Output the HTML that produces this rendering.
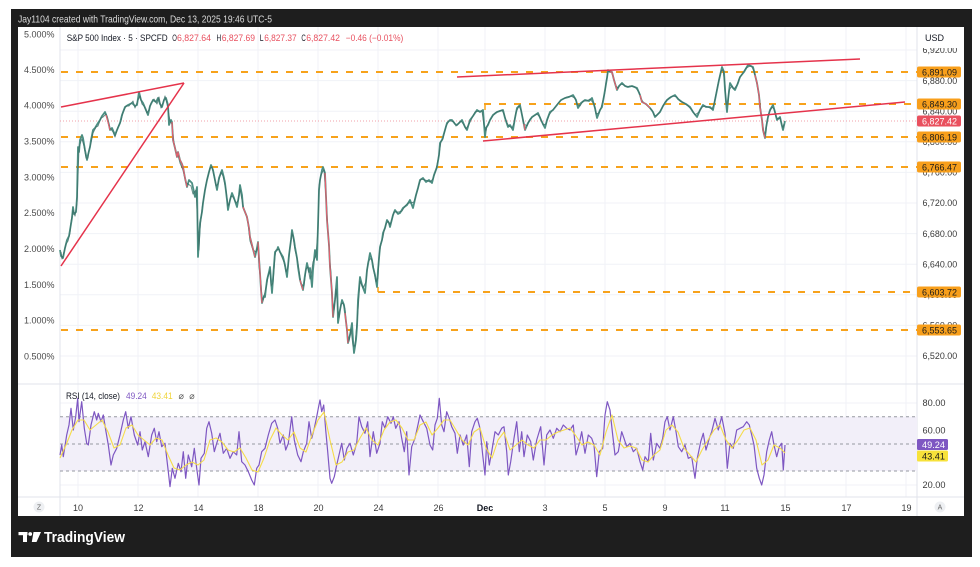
<!DOCTYPE html>
<html><head><meta charset="utf-8">
<style>
html,body{margin:0;padding:0;background:#fff;}
svg{display:block;font-family:"Liberation Sans",Arial,sans-serif;}
</style></head>
<body>
<svg width="980" height="567" viewBox="0 0 980 567" xmlns="http://www.w3.org/2000/svg">
<rect x="0" y="0" width="980" height="567" fill="#ffffff"/>
<rect x="11" y="9" width="961" height="548" fill="#1e1e1e"/>
<rect x="18" y="27" width="946" height="489" fill="#ffffff"/>
<text x="18" y="22.5" font-size="10.5" fill="#dcdcdc" textLength="254" lengthAdjust="spacingAndGlyphs">Jay1104 created with TradingView.com, Dec 13, 2025 19:46 UTC-5</text>

<!-- grid -->
<g stroke="#f0f2f7" stroke-width="1">
<line x1="78" y1="27" x2="78" y2="497"/><line x1="138" y1="27" x2="138" y2="497"/><line x1="198" y1="27" x2="198" y2="497"/>
<line x1="258" y1="27" x2="258" y2="497"/><line x1="318" y1="27" x2="318" y2="497"/><line x1="378" y1="27" x2="378" y2="497"/>
<line x1="438" y1="27" x2="438" y2="497"/><line x1="485" y1="27" x2="485" y2="497"/><line x1="545" y1="27" x2="545" y2="497"/>
<line x1="605" y1="27" x2="605" y2="497"/><line x1="665" y1="27" x2="665" y2="497"/><line x1="725" y1="27" x2="725" y2="497"/>
<line x1="785" y1="27" x2="785" y2="497"/><line x1="846" y1="27" x2="846" y2="497"/><line x1="906" y1="27" x2="906" y2="497"/>
<line x1="60" y1="50" x2="917" y2="50"/><line x1="60" y1="80.6" x2="917" y2="80.6"/><line x1="60" y1="111.2" x2="917" y2="111.2"/>
<line x1="60" y1="141.8" x2="917" y2="141.8"/><line x1="60" y1="172.4" x2="917" y2="172.4"/><line x1="60" y1="203" x2="917" y2="203"/>
<line x1="60" y1="233.6" x2="917" y2="233.6"/><line x1="60" y1="264.2" x2="917" y2="264.2"/><line x1="60" y1="294.8" x2="917" y2="294.8"/>
<line x1="60" y1="325.4" x2="917" y2="325.4"/><line x1="60" y1="356" x2="917" y2="356"/>
<line x1="60" y1="403" x2="917" y2="403"/><line x1="60" y1="430.3" x2="917" y2="430.3"/><line x1="60" y1="457.6" x2="917" y2="457.6"/><line x1="60" y1="485" x2="917" y2="485"/>
</g>

<!-- pane borders -->
<g stroke="#e0e3eb" stroke-width="1">
<line x1="60" y1="27" x2="60" y2="516"/>
<line x1="917" y1="27" x2="917" y2="516"/>
<line x1="18" y1="384" x2="964" y2="384"/>
<line x1="18" y1="497" x2="964" y2="497"/>
</g>

<!-- RSI band -->
<rect x="60" y="416.7" width="857" height="54.3" fill="#f2eff9"/>
<g stroke="#9598a1" stroke-width="1" stroke-dasharray="3 3">
<line x1="60" y1="416.7" x2="917" y2="416.7"/>
<line x1="60" y1="444" x2="917" y2="444"/>
<line x1="60" y1="471" x2="917" y2="471"/>
</g>

<!-- orange dashed levels -->
<g stroke="#f7a21b" stroke-width="2" stroke-dasharray="7 8">
<line x1="61" y1="72" x2="917" y2="72"/>
<line x1="484" y1="104" x2="917" y2="104"/>
<line x1="61" y1="137" x2="917" y2="137"/>
<line x1="61" y1="167" x2="917" y2="167"/>
<line x1="378" y1="292" x2="917" y2="292"/>
<line x1="61" y1="330" x2="917" y2="330"/>
</g>
<line x1="485" y1="104" x2="485" y2="110" stroke="#f7a21b" stroke-width="1.5"/>
<line x1="378" y1="292" x2="378" y2="287" stroke="#f7a21b" stroke-width="1.5"/>

<!-- current price dotted line -->
<line x1="60" y1="121" x2="917" y2="121" stroke="#f2a0a8" stroke-width="1" stroke-dasharray="1 2"/>

<!-- price series -->
<g fill="none" stroke-linejoin="round">
<polyline stroke="#4c8f83" stroke-width="1.8" points="60,250 61,256 63,258 65,248 67,240 69,236 70,230 72,218 73,207 74,214 76,212 77,197 78,147 79,152 80,140 82,135 83,138 85,150 87,160 88,155 90,147 91,140 93,130 95,128 98,123 100,120 102,116 105,112 107,117 109,125 110,130 112,128 115,135 117,130 120,123 122,115 125,107 128,105 132,103 135,106 137,105 139,92 141,100 143,103 146,110 148,115 150,106 153,100 156,102 158,98 160,104 162,107 164,100 166,98 168,105 169,125 171,120 172,122 173,140 175,148 177,157 178,152 180,160 182,164 183,167 185,178 187,187 189,180 192,183 194,192 195,197 197,187 198,257 199,240 200,223 202,212 203,203 205,190 207,180 209,172 211,165 213,170 215,180 217,190 219,178 222,170 224,178 225,183 227,200 228,210 230,200 232,193 234,198 237,207 239,195 240,185 242,195 243,207 245,212 247,217 249,228 250,237 252,245 255,257 257,248 258,242 259,258 260,273 261,290 262,303 264,296 265,297 266,288 267,280 269,272 270,267 271,280 272,293 274,265 275,252 277,250 278,247 280,252 283,257 285,265 287,277 289,255 291,240 292,230 294,240 295,247 297,258 298,267 300,280 303,290 305,275 307,263 309,272 310,268 312,287 313,270 315,250 317,260 319,190 320,180 322,170 323,167 325,173 327,220 329,245 330,267 331,280 332,293 333,317 335,300 337,277 338,323 340,310 342,300 344,305 345,313 347,330 348,343 350,335 352,323 353,340 354,353 356,340 357,327 358,300 360,277 362,285 365,293 367,270 370,253 372,260 373,267 375,275 377,287 378,270 380,247 382,240 383,233 385,228 387,220 389,223 390,227 393,215 395,210 398,214 400,213 403,208 407,205 410,200 413,208 416,195 418,188 420,180 423,178 426,182 429,180 432,183 434,175 437,167 439,155 440,143 442,140 443,137 445,130 447,123 450,120 452,120 455,124 457,125 460,122 462,120 465,127 467,130 470,120 473,116 477,110 480,112 483,110 485,137 486,128 488,125 490,120 493,115 497,112 500,111 503,110 505,118 508,127 510,125 513,130 515,118 517,108 520,105 522,115 525,130 528,123 532,117 535,115 538,113 541,120 545,128 547,120 550,112 553,110 557,105 561,100 565,98 569,97 573,95 576,100 578,108 581,103 585,100 589,101 592,98 595,108 597,118 600,110 602,107 604,96 605,90 607,78 608,70 610,72 612,72 614,80 617,90 619,86 622,83 625,86 628,87 632,86 637,88 640,95 642,102 646,104 650,108 653,112 655,117 657,115 660,112 663,106 667,100 671,97 675,95 678,99 682,102 686,104 690,107 693,112 697,117 700,110 703,105 706,107 710,107 713,110 715,100 717,90 719,80 722,67 724,72 725,90 727,112 728,100 730,83 733,88 735,90 738,83 740,77 744,72 748,65 751,66 753,67 755,75 757,83 759,95 760,107 762,120 763,130 765,138 766,128 768,117 770,110 773,105 775,112 777,120 779,118 780,117 782,126 783,130 785,121"/>
<polyline stroke="#3b6f68" stroke-width="1" stroke-opacity="0.8" points="61,252 62,259 64,252 66,244 68,241 70,233 71,222 73,210 75,216 77,203 79,148 81,141 82,139 84,146 86,158 88,158 89,150 91,143 93,133 96,127 98,126 101,118 103,117 106,114 108,121 110,128 113,132 115,137 118,127 121,121 123,112 126,106 129,106 133,101 135,108 138,100 140,96 142,104 144,106 147,113 149,110 151,103 154,99 157,104 159,97 161,108 163,103 165,96 167,104 170,121 172,124 174,143 176,152 178,155 180,163 183,170 186,183 188,184 191,186 193,194 196,190 199,250 200,229 202,209 204,196 206,184 208,176 210,168 212,167 214,176 216,186 218,184 221,172 223,176 226,190 228,206 229,204 231,196 233,197 236,203 238,201 240,189 242,200 244,210 246,214 248,223 250,241 253,250 256,252 258,246 259,266 261,284 262,298 263,300 265,292 267,283 268,276 270,270 271,286 273,283 275,256 276,250 279,249 281,255 284,262 286,272 288,268 290,247 292,233 293,236 295,250 296,254 298,263 301,284 304,286 306,269 308,267 310,279 311,276 313,262 316,255 318,230 319,186 321,175 323,171 324,170 326,196 328,232 330,262 331,273 332,300 334,310 336,289 338,310 339,318 341,304 343,303 345,309 346,322 348,340 349,341 351,329 353,346 355,346 356,334 358,310 360,281 363,288 366,282 368,262 371,258 373,264 374,272 376,282 378,278 379,256 381,243 383,237 384,231 386,224 388,221 390,225 392,219 394,212 397,212 399,212 402,211 405,206 408,203 411,203 414,202 417,192 419,184 421,179 425,180 428,181 430,182 433,179 436,170 438,160 440,148 441,141 443,139 444,134 446,126 449,121 451,121 454,122 456,126 459,123 461,121 464,125 466,129 469,124 472,118 475,112 479,111 482,111 484,125 486,131 487,126 489,122 492,117 495,113 499,111 502,110 504,114 507,123 509,126 512,128 514,123 516,112 519,106 521,110 524,124 527,126 530,119 534,116 537,114 540,117 543,125 546,124 549,115 552,111 555,107 559,102 563,99 567,97 571,96 575,98 577,104 580,106 583,101 587,101 590,99 594,104 596,114 599,113 601,108 603,100 605,92 606,82 608,72 611,71 613,76 616,86 618,88 621,84 624,85 627,87 630,86 635,87 639,92 641,99 644,103 648,106 652,110 654,115 656,116 659,113 662,108 665,102 669,98 673,96 677,97 680,101 684,103 688,106 692,110 695,115 699,112 702,107 705,106 708,107 712,109 714,104 716,94 718,84 721,71 723,70 725,84 726,104 728,104 729,90 732,86 734,89 737,85 739,79 742,74 746,68 750,66 752,67 754,71 756,79 758,90 760,102 761,114 763,126 764,135 766,132 767,121 769,113 772,107 774,109 776,117 778,119 780,118 781,122 783,128 784,124"/>
</g>
<!-- red down-move overlays -->
<g fill="none" stroke="#e4606f" stroke-width="1.2" stroke-linejoin="round">
<polyline points="172,122 173,140 175,148 177,157 178,152 180,160 182,164 183,167 185,178 187,187"/>
<polyline points="243,207 245,212 247,217 249,228 250,237 252,245 255,257"/>
<polyline points="258,242 259,258 260,273 261,290 262,303"/>
<polyline points="325,173 327,220 329,245 330,267 331,280 332,293 333,317"/>
<polyline points="345,313 347,330 348,343"/>
<polyline points="755,75 757,83 759,95 760,107 762,120 763,130 765,138"/>
<polyline points="610,72 612,72 614,80 617,90"/>
<polyline points="106,115 108,122 110,130"/>
<polyline points="640,95 642,102 646,104 650,108"/>
<polyline points="524,124 525,130"/>
<polyline points="300,280 303,290"/>
</g>

<!-- trend lines -->
<g stroke="#e5334b" stroke-width="1.5" fill="none">
<line x1="61" y1="107" x2="184" y2="83"/>
<line x1="61" y1="266" x2="184" y2="83"/>
<line x1="457" y1="77" x2="860" y2="59"/>
<line x1="483" y1="141" x2="905" y2="102"/>
</g>

<!-- RSI line -->
<polyline fill="none" stroke="#7e57c2" stroke-width="1.2" stroke-linejoin="round" points="60,455 61.7,445 63.3,456.7 66.7,435 69,425 71,408.3 73.3,430 75.7,416.7 77.7,398.3 79,421.7 81.7,401.7 84.3,428.3 86.7,443.3 88.3,445 91,425 94.3,411.7 96.7,420 98.3,413.3 101,421.7 103.3,415 105.7,430 108.3,445 111,465 113.3,455 116.7,448.3 120,435 123.3,420 125.7,411.7 128.3,428.3 131,416.7 134.3,435 137.7,445 140,431.7 142.3,450 145,441.7 148.3,456.7 151.7,435 154.3,428.3 156.7,441.7 159,431.7 161.7,446.7 165,443.3 168.3,471.7 170,486.7 172.3,468.3 175,478.3 178.3,463.3 181,471.7 183.3,451.7 185.7,478.3 188.3,455 191.7,466.7 194.3,448.3 196.7,468.3 199,485 201,458.3 204.3,453.3 206.7,428.3 209,421.7 211.7,433.3 214.3,451.7 216.7,443.3 220,433.3 223.3,453.3 226.7,448.3 230,458.3 233.3,451.7 236.7,455 239,431.7 241.7,461.7 245,465 248.3,471.7 251.7,480 254.3,485 256.7,468.3 259,465 261.7,451.7 265,448.3 268.3,435 271.7,423.3 275,420 277.7,428.3 280,443.3 283.3,435 285.7,450 288.3,443.3 291.7,416.7 294.3,440 297.7,455 301,461.7 303.3,451.7 306.7,443.3 309,421.7 311.7,438.3 314.3,428.3 316.7,416.7 318.3,408.3 320,400 321.7,411.7 323.7,405 325.7,430 327.7,451.7 330,478.3 331.7,483.3 334.3,476.7 336.7,465 339,455 341.7,443.3 344.3,460 347,448.3 350,443.3 353.3,455 356.7,443.3 359,416.7 361.7,426.7 365,433.3 367.7,421.7 370,456.7 373.3,431.7 376.7,453.3 380,443.3 382.3,421.7 385,428.3 387.7,416.7 391,423.3 393.3,416.7 395.7,428.3 399,421.7 401.7,438.3 404.3,451.7 406.7,431.7 409,475 411.7,446.7 415,438.3 418.3,423.3 420,415 423.3,421.7 426.7,428.3 430,445 432.7,450 435,425 437.3,418.3 439.3,398.3 441.7,425 444,431.7 446.7,411.7 449.3,418.3 451.7,426.7 455,433.3 457.3,453.3 460,435 463.3,445 466.7,435 469.3,466.7 471.7,431.7 475,421.7 477.3,418.3 480,428.3 482.7,455 485,475 486.7,441.7 489.3,465 491.7,451.7 495,431.7 498.3,435 501.7,428.3 504,426.7 506.7,451.7 508.3,475 510.7,461.7 514,438.3 516.7,421.7 519.3,451.7 521.7,431.7 524,456.7 527.3,435 530.7,441.7 533.3,460 536.7,440 540.7,426.7 544,465 546.7,435 550,430 553.3,438.3 556.7,428.3 560,431.7 563.3,425 566.7,428.3 570,430 573.3,425 576,455 579.3,443.3 581.7,431.7 585,453.3 588.3,435 591.7,438.3 594,445 596.7,476.7 599.3,451.7 602.7,448.3 605,415 607.3,401.7 610,410 612.7,435 615,455 618.3,451.7 621.7,431.7 624,438.3 626.7,446.7 630,443.3 633.3,451.7 636.7,448.3 640,461.7 642.7,470 645,456.7 648.3,461.7 650.7,433.3 653.3,460 656.7,443.3 660,448.3 662.7,438.3 665,421.7 667.3,416.7 670,430 673.3,416.7 676,431.7 678.3,446.7 681.7,451.7 685,445 688.3,458.3 691.7,456.7 695,478.3 697.3,458.3 700.7,441.7 703.3,433.3 706,450 709.3,438.3 711.7,431.7 715,418.3 718.3,430 721.7,416.7 725,433.3 727.3,468.3 730,443.3 733.3,448.3 736.7,430 740,428.3 743.3,426.7 746.7,421.7 749.3,425 751.7,435 754,445 756.7,468.3 759.3,478.3 761.7,485 764,475 766.7,451.7 769.3,440 771.7,431.7 774,445 776.7,456.7 779.3,446.7 781.7,443.3 783.3,470 785,445"/>
<!-- RSI MA -->
<polyline fill="none" stroke="#f5dc4a" stroke-width="1.1" stroke-linejoin="round" points="60,458 66,445 72,430 78,420 84,420 90,430 96,425 102,420 108,432 114,448 120,445 126,428 132,425 138,435 144,440 150,445 156,438 162,440 168,455 174,468 180,470 186,465 192,462 198,465 204,460 210,440 216,438 222,442 228,450 234,452 240,448 246,458 252,470 258,472 264,458 270,440 276,428 282,435 288,440 294,432 300,448 306,452 312,435 318,420 324,412 330,440 336,465 342,462 348,452 354,450 360,438 366,428 372,440 378,445 384,430 390,422 396,420 402,428 408,440 414,440 420,425 426,422 432,435 438,428 444,420 450,420 456,430 462,440 468,445 474,432 480,428 486,448 492,458 498,440 504,432 510,450 516,445 522,440 528,445 534,448 540,440 546,440 552,435 558,432 564,430 570,428 576,436 582,445 588,442 594,445 600,455 606,432 612,415 618,440 624,448 630,446 636,448 642,460 648,462 654,455 660,450 666,430 672,425 678,432 684,448 690,455 696,462 702,450 708,440 714,430 720,425 726,440 732,448 738,440 744,430 750,428 756,440 762,465 768,460 774,445 780,448 785,453"/>

<!-- legend -->
<g font-size="9">
<text x="66.7" y="41" fill="#131722" textLength="101" lengthAdjust="spacingAndGlyphs">S&amp;P 500 Index · 5 · SPCFD</text>
<text x="172.2" y="41" fill="#131722" textLength="4.6" lengthAdjust="spacingAndGlyphs">O</text>
<text x="177" y="41" fill="#e8505f" textLength="34" lengthAdjust="spacingAndGlyphs">6,827.64</text>
<text x="216.5" y="41" fill="#131722" textLength="4.6" lengthAdjust="spacingAndGlyphs">H</text>
<text x="221.7" y="41" fill="#e8505f" textLength="33.3" lengthAdjust="spacingAndGlyphs">6,827.69</text>
<text x="259.8" y="41" fill="#131722" textLength="3.8" lengthAdjust="spacingAndGlyphs">L</text>
<text x="264.2" y="41" fill="#e8505f" textLength="32.5" lengthAdjust="spacingAndGlyphs">6,827.37</text>
<text x="301.4" y="41" fill="#131722" textLength="4.4" lengthAdjust="spacingAndGlyphs">C</text>
<text x="306.2" y="41" fill="#e8505f" textLength="33.8" lengthAdjust="spacingAndGlyphs">6,827.42</text>
<text x="345.7" y="41" fill="#e8505f" textLength="57.6" lengthAdjust="spacingAndGlyphs">−0.46 (−0.01%)</text>
</g>
<g font-size="9">
<text x="66" y="399" fill="#131722" textLength="54" lengthAdjust="spacingAndGlyphs">RSI (14, close)</text>
<text x="126" y="399" fill="#7e57c2" textLength="20.7" lengthAdjust="spacingAndGlyphs">49.24</text>
<text x="151.7" y="399" fill="#f0d43a" textLength="21" lengthAdjust="spacingAndGlyphs">43.41</text>
<text x="178.5" y="399" fill="#555">⌀</text>
<text x="189.2" y="399" fill="#555">⌀</text>
</g>

<!-- left axis labels -->
<g font-size="9" fill="#4a4a4a" text-anchor="end">
<text x="54.5" y="37.3">5.000%</text>
<text x="54.5" y="73.2">4.500%</text>
<text x="54.5" y="108.7">4.000%</text>
<text x="54.5" y="144.5">3.500%</text>
<text x="54.5" y="180.3">3.000%</text>
<text x="54.5" y="216.2">2.500%</text>
<text x="54.5" y="252">2.000%</text>
<text x="54.5" y="287.8">1.500%</text>
<text x="54.5" y="323.6">1.000%</text>
<text x="54.5" y="359.4">0.500%</text>
</g>

<!-- right axis labels -->
<g font-size="9" fill="#3a3a3a">
<text x="922.5" y="53.2" textLength="34.7" lengthAdjust="spacingAndGlyphs">6,920.00</text>
<text x="922.5" y="83.8" textLength="34.7" lengthAdjust="spacingAndGlyphs">6,880.00</text>
<text x="922.5" y="114.4" textLength="34.7" lengthAdjust="spacingAndGlyphs">6,840.00</text>
<text x="922.5" y="145" textLength="34.7" lengthAdjust="spacingAndGlyphs">6,800.00</text>
<text x="922.5" y="175.6" textLength="34.7" lengthAdjust="spacingAndGlyphs">6,760.00</text>
<text x="922.5" y="206.2" textLength="34.7" lengthAdjust="spacingAndGlyphs">6,720.00</text>
<text x="922.5" y="236.8" textLength="34.7" lengthAdjust="spacingAndGlyphs">6,680.00</text>
<text x="922.5" y="267.4" textLength="34.7" lengthAdjust="spacingAndGlyphs">6,640.00</text>
<text x="922.5" y="298" textLength="34.7" lengthAdjust="spacingAndGlyphs">6,600.00</text>
<text x="922.5" y="328.6" textLength="34.7" lengthAdjust="spacingAndGlyphs">6,560.00</text>
<text x="922.5" y="359.2" textLength="34.7" lengthAdjust="spacingAndGlyphs">6,520.00</text>
<text x="922.5" y="406.2" textLength="23" lengthAdjust="spacingAndGlyphs">80.00</text>
<text x="922.5" y="433.5" textLength="23" lengthAdjust="spacingAndGlyphs">60.00</text>
<text x="922.5" y="488.2" textLength="23" lengthAdjust="spacingAndGlyphs">20.00</text>
</g>
<rect x="918" y="28" width="45" height="20" fill="#ffffff"/>
<text x="925" y="41" font-size="9" fill="#131722">USD</text>

<!-- badges -->
<g font-size="9.5">
<rect x="917" y="66.5" width="44" height="11" rx="2" fill="#f89f1b"/>
<text x="922" y="75.4" fill="#1a1a1a" textLength="35" lengthAdjust="spacingAndGlyphs">6,891.09</text>
<rect x="917" y="98.5" width="44" height="11" rx="2" fill="#f89f1b"/>
<text x="922" y="107.4" fill="#1a1a1a" textLength="35" lengthAdjust="spacingAndGlyphs">6,849.30</text>
<rect x="917" y="131.5" width="44" height="11" rx="2" fill="#f89f1b"/>
<text x="922" y="140.4" fill="#1a1a1a" textLength="35" lengthAdjust="spacingAndGlyphs">6,806.19</text>
<rect x="917" y="161.5" width="44" height="11" rx="2" fill="#f89f1b"/>
<text x="922" y="170.4" fill="#1a1a1a" textLength="35" lengthAdjust="spacingAndGlyphs">6,766.47</text>
<rect x="917" y="286.5" width="44" height="11" rx="2" fill="#f89f1b"/>
<text x="922" y="295.4" fill="#1a1a1a" textLength="35" lengthAdjust="spacingAndGlyphs">6,603.72</text>
<rect x="917" y="324.5" width="44" height="11" rx="2" fill="#f89f1b"/>
<text x="922" y="333.4" fill="#1a1a1a" textLength="35" lengthAdjust="spacingAndGlyphs">6,553.65</text>
<rect x="917" y="115.5" width="44" height="11" rx="2" fill="#e9505e"/>
<text x="922" y="124.4" fill="#ffffff" textLength="35" lengthAdjust="spacingAndGlyphs">6,827.42</text>
<rect x="917" y="439" width="31" height="11" rx="1.5" fill="#7e57c2"/>
<text x="922" y="447.8" fill="#ffffff" textLength="23" lengthAdjust="spacingAndGlyphs">49.24</text>
<rect x="917" y="450.5" width="31" height="11" rx="1.5" fill="#f7e23a"/>
<text x="922" y="459.3" fill="#1a1a1a" textLength="23" lengthAdjust="spacingAndGlyphs">43.41</text>
</g>

<!-- time axis -->
<g font-size="9" fill="#3a3a3a" text-anchor="middle">
<text x="78" y="511">10</text>
<text x="138.5" y="511">12</text>
<text x="198.5" y="511">14</text>
<text x="258.5" y="511">18</text>
<text x="318.5" y="511">20</text>
<text x="378.5" y="511">24</text>
<text x="438.5" y="511">26</text>
<text x="485" y="511" font-weight="bold" fill="#131722">Dec</text>
<text x="545" y="511">3</text>
<text x="605" y="511">5</text>
<text x="665" y="511">9</text>
<text x="725" y="511">11</text>
<text x="785.5" y="511">15</text>
<text x="846.5" y="511">17</text>
<text x="906.5" y="511">19</text>
</g>
<circle cx="39" cy="507" r="5.5" fill="#eef0f3"/>
<text x="39" y="509.6" font-size="7" fill="#666" text-anchor="middle">Z</text>
<circle cx="940" cy="507" r="5.5" fill="#eef0f3"/>
<text x="940" y="509.6" font-size="7" fill="#666" text-anchor="middle">A</text>

<!-- logo -->
<g fill="#ffffff">
<rect x="18.5" y="532" width="9" height="3.2"/>
<rect x="23" y="532" width="4" height="10"/>
<circle cx="30.2" cy="534" r="1.9"/>
<polygon points="33.5,532 41,532 36.5,542 31.8,542"/>
</g>
<text x="44" y="542" font-size="15" font-weight="bold" fill="#ffffff" textLength="81" lengthAdjust="spacingAndGlyphs">TradingView</text>
</svg>
</body></html>
